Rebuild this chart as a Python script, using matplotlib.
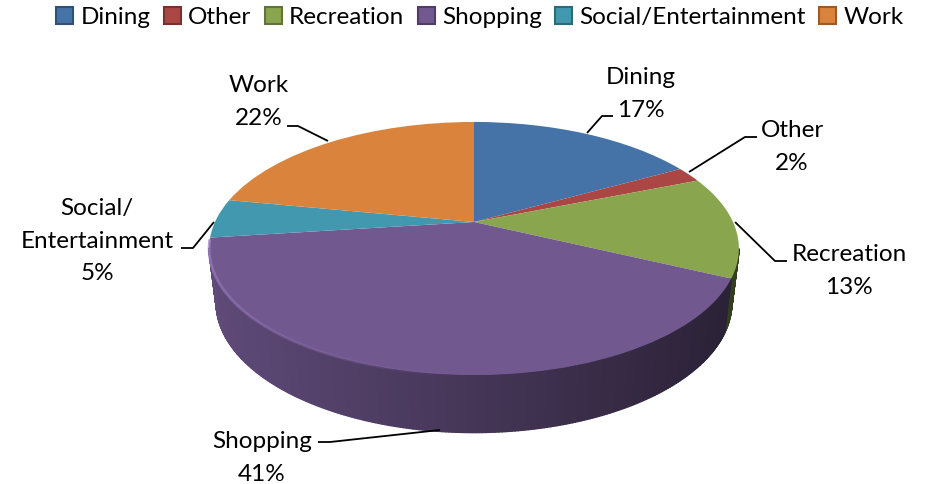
import numpy as np
import matplotlib
matplotlib.use("Agg")
import matplotlib.pyplot as plt
from matplotlib.patches import Patch
from matplotlib.transforms import Transform
from matplotlib.collections import PolyCollection, LineCollection

plt.rcParams['font.family'] = ['Lato', 'DejaVu Sans']

categories = ['Dining', 'Other', 'Recreation', 'Shopping', 'Social/Entertainment', 'Work']
shares = [17, 2, 13, 41, 5, 22]
colors = ['#4573a7', '#aa4644', '#89a54e', '#71588f', '#4298af', '#d9833c']

# pie geometry in pixels
cx, cy = 474, 222
half_w = 259
half_h = 121
tilt = 0.2095

# label centres and leader lines
label_pos = [(641, 94), (792, 147), (849, 271), (262, 458), (97, 241), (259, 102)]
leaders = [
    [(587, 133), (602, 116), (613, 116)],
    [(689, 172), (745, 137), (757, 137)],
    [(735, 222), (775, 261), (787, 261)],
    [(440, 430), (330, 442), (318, 442)],
    [(214, 222), (193, 248), (181, 248)],
    [(328, 141), (298, 126), (287, 126)],
]


class Tilted(Transform):
    # unit disc seen from above, the far side gets smaller
    input_dims = output_dims = 2

    def transform_non_affine(self, xy):
        xy = np.asarray(xy, dtype=float)
        w = 1 + tilt * xy[:, 1]
        return np.column_stack([cx + half_w * xy[:, 0] / w, cy - half_h * xy[:, 1] / w])


tilted = Tilted()

fig = plt.figure(figsize=(9.3, 4.84), dpi=100)
ax = fig.add_axes([0, 0, 1, 1])

wedges, _ = ax.pie(shares, colors=colors, startangle=90, counterclock=False)
for w in wedges:
    w.set_transform(tilted + ax.transData)
    w.set_zorder(3)

ax.set_xlim(0, 930)
ax.set_ylim(484, 0)
ax.set_aspect('auto')
ax.axis('off')

# side wall, one thin quad per step around the front of the rim
edges = np.cumsum([0] + shares) / sum(shares) * 2 * np.pi
quads = []
quad_colors = []
for i in range(len(shares)):
    t = np.linspace(edges[i], edges[i + 1], int(shares[i] * 6) + 2)
    top = tilted.transform(np.column_stack([np.sin(t), np.cos(t)]))
    bottom = np.column_stack([474 + (top[:, 0] - 474) * 258 / 265, 302 + (top[:, 1] - 248) * 130 / 126.5])
    base = np.array(matplotlib.colors.to_rgb(colors[i]))
    for j in range(len(t) - 1):
        if top[j, 1] < 248 or top[j + 1, 1] < 248:
            continue
        quads.append([top[j], top[j + 1], bottom[j + 1], bottom[j]])
        shade = 0.84 - 0.46 * (top[j, 0] - 210) / 525
        quad_colors.append(base * np.clip(shade, 0.3, 0.9))
ax.add_collection(PolyCollection(quads, facecolors=quad_colors, edgecolors=quad_colors, linewidths=1.0, zorder=2))

# pale bevel along the front left of the top face
t = np.radians(np.linspace(262, 182, 60))
rim = tilted.transform(np.column_stack([np.sin(t), np.cos(t)]))
segs = np.stack([rim[:-1], rim[1:]], axis=1)
fade = np.linspace(0.8, 0.0, len(segs))
ax.add_collection(LineCollection(segs, colors=[(0.62, 0.5, 0.76, a) for a in fade], linewidths=2.0, zorder=4))

for name, share, pos, pts in zip(categories, shares, label_pos, leaders):
    text = name.replace('/', '/\n') + '\n' + str(share) + '%'
    ax.text(pos[0], pos[1], text, ha='center', va='center', fontsize=17.5, color='black', linespacing=1.66)
    ax.plot(*zip(*pts), color='black', lw=1.3, zorder=5, solid_capstyle='butt')

# legend keys with the darker border of the bevelled squares
handles = [Patch(facecolor=c, edgecolor=np.array(matplotlib.colors.to_rgb(c)) * 0.7, linewidth=1.5) for c in colors]
ax.legend(handles, categories, ncol=6, loc='upper center', bbox_to_anchor=(0.516, 1.0), frameon=False,
          fontsize=17.5, handlelength=0.7, handleheight=0.7, handletextpad=0.3, columnspacing=0.55,
          borderaxespad=0, borderpad=0.3)

plt.savefig('out.png', dpi=100)
